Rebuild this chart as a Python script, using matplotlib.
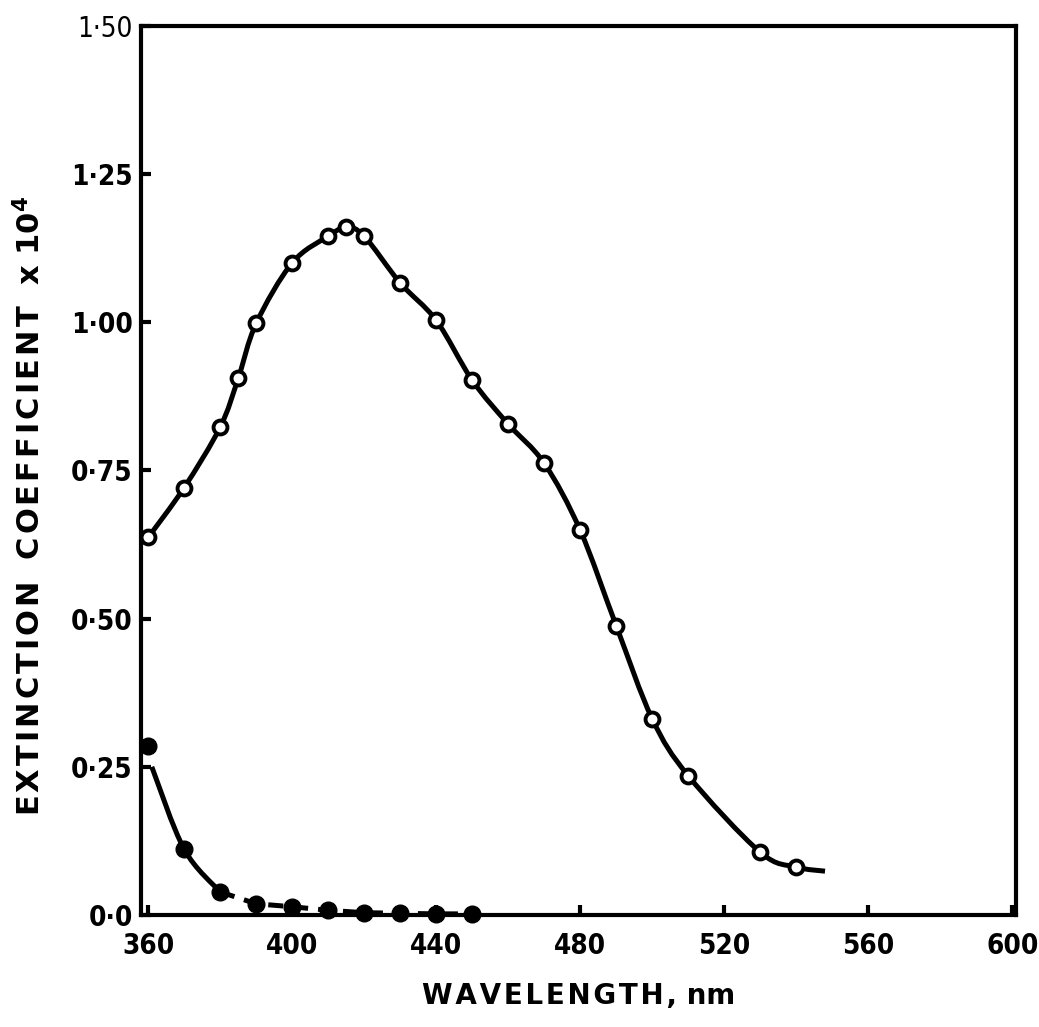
import numpy as np
import matplotlib
matplotlib.use('Agg')
import matplotlib.pyplot as plt
from matplotlib.path import Path
from matplotlib.patches import PathPatch
from matplotlib import font_manager

# open circles (upper curve)
wl_open = [360, 370, 380, 385, 390, 400, 410, 415, 420, 430, 440, 450,
           460, 470, 480, 490, 500, 510, 530, 540]
ext_open = [0.637, 0.721, 0.823, 0.905, 0.998, 1.100, 1.145, 1.160, 1.145,
            1.066, 1.003, 0.902, 0.828, 0.762, 0.649, 0.488, 0.331, 0.235,
            0.106, 0.081]
# curve tail after last point
tail_wl = [540, 548]
tail_ext = [0.081, 0.074]

# filled circles (lower curve)
wl_fill = [360, 370, 380, 390, 400, 410, 420, 430, 440, 450]
ext_fill = [0.285, 0.111, 0.039, 0.019, 0.014, 0.008, 0.004, 0.003, 0.002, 0.002]
# solid part of lower curve
solid_wl = [361, 370, 380]
solid_ext = [0.250, 0.111, 0.039]

xticks = [360, 400, 440, 480, 520, 560, 600]
yticks = [0.0, 0.25, 0.50, 0.75, 1.00, 1.25, 1.50]
ytick_labels = ['0·0', '0·25', '0·50', '0·75', '1·00', '1·25', '1·50']


def smooth_path(ax, xs, ys):
    # catmull-rom -> cubic bezier, done in display space so it follows the axes scale
    pts = ax.transData.transform(np.column_stack([xs, ys]))
    verts = [pts[0]]
    codes = [Path.MOVETO]
    n = len(pts)
    for i in range(n - 1):
        p0 = pts[i - 1] if i > 0 else pts[i]
        p1 = pts[i]
        p2 = pts[i + 1]
        p3 = pts[i + 2] if i + 2 < n else pts[i + 1]
        c1 = p1 + (p2 - p0) / 6.0
        c2 = p2 - (p3 - p1) / 6.0
        verts += [c1, c2, p2]
        codes += [Path.CURVE4] * 3
    return Path(verts, codes)


def spaced(s):
    return '\u200a'.join(s)


cond = font_manager.FontProperties(family='DejaVu Sans', stretch='condensed', weight='bold')
plt.rcParams['font.family'] = ['DejaVu Sans']

fig = plt.figure(figsize=(10.39, 10.27), dpi=100)
ax = fig.add_axes([0.1357, 0.109, 0.842, 0.866])
ax.set_xlim(358, 601)
ax.set_ylim(0, 1.5)

upper_x = wl_open + tail_wl[1:]
upper_y = ext_open + tail_ext[1:]
ax.add_patch(PathPatch(smooth_path(ax, upper_x, upper_y), transform=None,
                       fill=False, lw=3.6, ec='black', zorder=2))
ax.plot(wl_open, ext_open, ls='none', marker='o', ms=10, mfc='white',
        mec='black', mew=2.8, zorder=3)

ax.add_patch(PathPatch(smooth_path(ax, solid_wl, solid_ext), transform=None,
                       fill=False, lw=3.6, ec='black', zorder=2))
ax.plot(wl_fill[2:], ext_fill[2:], color='black', lw=3.6, ls=(0, (3, 2)), zorder=2)
ax.plot(wl_fill, ext_fill, ls='none', marker='o', ms=12, mfc='black',
        mec='black', zorder=3, clip_on=False)

ax.set_xticks(xticks)
ax.set_yticks(yticks)
ax.set_yticklabels(ytick_labels)
for s in ax.spines.values():
    s.set_linewidth(3)
ax.tick_params(direction='in', length=7, width=3, labelsize=19, pad=6)
ax.tick_params(axis='x', pad=12)
for t in ax.get_xticklabels() + ax.get_yticklabels():
    t.set_fontproperties(cond)
    t.set_fontsize(20)
ax.get_yticklabels()[-1].set_fontweight('normal')

ax.set_xlabel(spaced('WAVELENGTH,') + ' nm', fontsize=20, fontweight='bold', labelpad=16)
ax.set_ylabel(spaced('EXTINCTION') + '  ' + spaced('COEFFICIENT') + '  x 10$^{\\mathbf{4}}$',
              fontsize=22, fontweight='bold')
ax.yaxis.set_label_coords(-0.108, 0.46)

fig.savefig('out.png', dpi=100)
